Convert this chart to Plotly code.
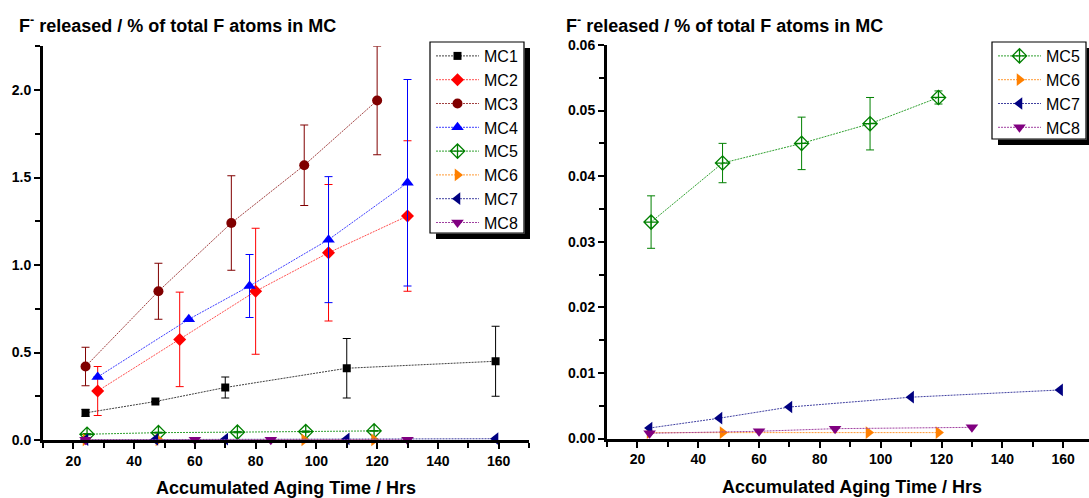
import plotly.graph_objects as go

W, H = 1089, 498

# ---------------- data ----------------
series_names = ["MC1", "MC2", "MC3", "MC4", "MC5", "MC6", "MC7", "MC8"]

x_mc1 = [24, 47, 70, 110, 159]
y_mc1 = [0.155, 0.22, 0.30, 0.41, 0.45]
e_mc1 = [0.02, 0.0, 0.06, 0.17, 0.20]

x_mc2 = [28, 55, 80, 104, 130]
y_mc2 = [0.28, 0.575, 0.85, 1.07, 1.28]
e_mc2 = [0.14, 0.27, 0.36, 0.39, 0.43]

x_mc3 = [24, 48, 72, 96, 120]
y_mc3 = [0.42, 0.85, 1.24, 1.57, 1.94]
e_mc3 = [0.11, 0.16, 0.27, 0.23, 0.31]

x_mc4 = [28, 58, 78, 104, 130]
y_mc4 = [0.36, 0.69, 0.88, 1.145, 1.47]
e_mc4 = [0.0, 0.0, 0.18, 0.36, 0.59]

x_mc5 = [24.5, 48, 74, 96.5, 119]
y_mc5 = [0.033, 0.042, 0.045, 0.048, 0.052]
e_mc5 = [0.004, 0.003, 0.004, 0.004, 0.001]

x_mc6 = [24, 48, 96, 119]
y_mc6 = [0.0009, 0.0009, 0.0009, 0.0009]

x_mc7 = [24, 47, 70, 110, 159]
y_mc7 = [0.0016, 0.0031, 0.0048, 0.0063, 0.0074]

x_mc8 = [24, 60, 85, 130]
y_mc8 = [0.0008, 0.0011, 0.0015, 0.0017]

left_y_ticks = [0.0, 0.5, 1.0, 1.5, 2.0]
right_y_ticks = [0.00, 0.01, 0.02, 0.03, 0.04, 0.05, 0.06]
x_ticks = [20, 40, 60, 80, 100, 120, 140, 160]

y_title = "F<sup>-</sup> released / % of total F atoms in MC"
x_title = "Accumulated Aging Time / Hrs"

# ---------------- styles ----------------
FONT = "Liberation Sans, Arial, sans-serif"
styles = {
    "MC1": dict(color="#000000", line="#404040", symbol="square", size=8),
    "MC2": dict(color="#FF0000", line="#FF5050", symbol="diamond", size=10),
    "MC3": dict(color="#800000", line="#A04040", symbol="circle", size=10),
    "MC4": dict(color="#0000FF", line="#4040FF", symbol="triangle-up", size=11),
    "MC5": dict(color="#008000", line="#30A030", symbol="diamond-cross-open", size=11),
    "MC6": dict(color="#FF8000", line="#FF9933", symbol="triangle-right", size=11),
    "MC7": dict(color="#000080", line="#4040A0", symbol="triangle-left", size=11),
    "MC8": dict(color="#800080", line="#A040A0", symbol="triangle-down", size=11),
}

data = {
    "MC1": (x_mc1, y_mc1, e_mc1),
    "MC2": (x_mc2, y_mc2, e_mc2),
    "MC3": (x_mc3, y_mc3, e_mc3),
    "MC4": (x_mc4, y_mc4, e_mc4),
    "MC5": (x_mc5, y_mc5, e_mc5),
    "MC6": (x_mc6, y_mc6, None),
    "MC7": (x_mc7, y_mc7, None),
    "MC8": (x_mc8, y_mc8, None),
}


def make_trace(name, xa, ya, legend):
    xs, ys, es = data[name]
    st = styles[name]
    marker = dict(symbol=st["symbol"], size=st["size"], color=st["color"],
                  line=dict(width=1.3 if "open" in st["symbol"] else 0, color=st["color"]))
    tr = go.Scatter(
        x=xs, y=ys, name=name, mode="lines+markers",
        xaxis=xa, yaxis=ya, legend=legend, cliponaxis=False,
        line=dict(color=st["line"], width=1, dash="2px,1px"),
        marker=marker,
    )
    if es is not None:
        tr.error_y = dict(type="data", array=es, visible=True,
                          color=st["color"], thickness=1, width=4)
    return tr


fig = go.Figure()
for n in series_names:
    fig.add_trace(make_trace(n, "x", "y", "legend"))
for n in ["MC5", "MC6", "MC7", "MC8"]:
    fig.add_trace(make_trace(n, "x2", "y2", "legend2"))


def px_x(p):
    return p / W


def px_y(p):
    return 1 - p / H


axis_common = dict(
    showline=True, linecolor="black", linewidth=3,
    ticks="outside", ticklen=6, tickwidth=2, tickcolor="black",
    showgrid=False, zeroline=False, mirror=False, automargin=False,
    tickfont=dict(family=FONT, size=14, color="black", weight="bold"),
)

legend_common = dict(
    xanchor="left", yanchor="top",
    bgcolor="rgba(255,255,255,0)", bordercolor="rgba(255,255,255,0)", borderwidth=0,
    font=dict(family=FONT, size=16, color="black"),
    tracegroupgap=0, itemwidth=43,
)

fig.update_layout(
    width=W, height=H,
    margin=dict(l=0, r=0, t=0, b=0, pad=0, autoexpand=False),
    paper_bgcolor="white", plot_bgcolor="white",
    font=dict(family=FONT, color="black"),
    xaxis=dict(domain=[px_x(43), px_x(529)], range=[10, 170],
               tickmode="array", tickvals=x_ticks, anchor="y",
               minor=dict(dtick=10, tick0=0, ticks="outside", ticklen=5, tickwidth=2, tickcolor="black"),
               **axis_common),
    yaxis=dict(domain=[px_y(440), px_y(46.25)], range=[0, 2.25],
               tickmode="array", tickvals=left_y_ticks, tickformat=".1f", anchor="x",
               minor=dict(dtick=0.25, tick0=0, ticks="outside", ticklen=5, tickwidth=2, tickcolor="black"),
               **axis_common),
    xaxis2=dict(domain=[px_x(607), 1.0], range=[10, 168.5],
                tickmode="array", tickvals=x_ticks, anchor="y2",
                minor=dict(dtick=10, tick0=0, ticks="outside", ticklen=5, tickwidth=2, tickcolor="black"),
                **axis_common),
    yaxis2=dict(domain=[px_y(438.5), px_y(45)], range=[0, 0.06],
                tickmode="array", tickvals=right_y_ticks, tickformat=".2f", anchor="x2",
                minor=dict(dtick=0.005, tick0=0, ticks="outside", ticklen=5, tickwidth=2, tickcolor="black"),
                **axis_common),
    legend=dict(x=px_x(431), y=px_y(39), **legend_common),
    legend2=dict(x=px_x(993), y=px_y(39), **legend_common),
    showlegend=True,
)

# legend frames with drop shadows (white box, then right and bottom shadow strips)
SH = 6
for (x0, y0, x1, y1) in [(430, 42, 524, 233), (992, 42, 1086, 139)]:
    fig.add_shape(type="rect", xref="paper", yref="paper",
                  x0=px_x(x0), x1=px_x(x1), y0=px_y(y1), y1=px_y(y0),
                  fillcolor="#FFFFFF", line=dict(width=1.2, color="#000000"), layer="above")
    fig.add_shape(type="rect", xref="paper", yref="paper",
                  x0=px_x(x1 + 0.6), x1=px_x(x1 + SH), y0=px_y(y1 + SH), y1=px_y(y0 + SH),
                  fillcolor="#000000", line=dict(width=0), layer="above")
    fig.add_shape(type="rect", xref="paper", yref="paper",
                  x0=px_x(x0 + SH), x1=px_x(x1 + SH), y0=px_y(y1 + SH), y1=px_y(y1 + 0.6),
                  fillcolor="#000000", line=dict(width=0), layer="above")

title_font = dict(family=FONT, size=18, color="black", weight="bold")
ann = [
    dict(text=y_title, x=px_x(17), y=px_y(25), xanchor="left", yanchor="middle"),
    dict(text=y_title, x=px_x(564), y=px_y(24), xanchor="left", yanchor="middle"),
    dict(text=x_title, x=px_x(286), y=px_y(488), xanchor="center", yanchor="middle"),
    dict(text=x_title, x=px_x(852), y=px_y(487), xanchor="center", yanchor="middle"),
]
for a in ann:
    fig.add_annotation(xref="paper", yref="paper", showarrow=False, font=title_font, **a)

fig.write_html(
    "out.html",
    config={"displayModeBar": False},
    post_script="document.body.style.margin='0';document.body.style.padding='0';"
                "document.body.style.overflow='hidden';",
)
